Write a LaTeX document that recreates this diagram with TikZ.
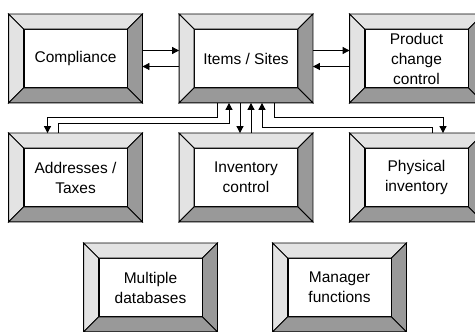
\documentclass[tikz,border=0pt]{standalone}
\usepackage{fontspec}
\setmainfont{Liberation Sans}
\usetikzlibrary{calc,arrows.meta}

\definecolor{bevlight}{HTML}{E3E3E3}
\definecolor{bevdark}{HTML}{999999}

\tikzset{
  bevelinner/.style={draw=black, fill=white, line width=0.8pt,
    minimum width=103pt, minimum height=58pt, inner sep=0pt,
    align=center, font=\fontsize{15.5}{20}\selectfont},
  lightface/.style={fill=bevlight, draw=black, line width=0.8pt, line join=miter},
  darkface/.style={fill=bevdark, draw=black, line width=0.8pt, line join=miter},
  link/.style={draw=black, line width=0.8pt, -{Triangle[length=7pt,width=7pt]}},
  plainlink/.style={draw=black, line width=0.8pt},
}

% Raised box: a white text panel framed by four bevelled faces
\newcommand\bevelbox[3]{%
  \node[bevelinner] (#1) at (#2) {#3};
  \coordinate (#1-onw) at ($(#1.north west)+(-15,15)$);
  \coordinate (#1-one) at ($(#1.north east)+(15,15)$);
  \coordinate (#1-ose) at ($(#1.south east)+(15,-15)$);
  \coordinate (#1-osw) at ($(#1.south west)+(-15,-15)$);
  \filldraw[lightface] (#1-onw) -- (#1-one) -- (#1.north east) -- (#1.north west) -- cycle;
  \filldraw[lightface] (#1-onw) -- (#1.north west) -- (#1.south west) -- (#1-osw) -- cycle;
  \filldraw[darkface] (#1-one) -- (#1-ose) -- (#1.south east) -- (#1.north east) -- cycle;
  \filldraw[darkface] (#1-osw) -- (#1.south west) -- (#1.south east) -- (#1-ose) -- cycle;
}

\begin{document}
\begin{tikzpicture}[x=1pt,y=1pt]
  \useasboundingbox (0,0) rectangle (475,332);
  \clip (0,0) rectangle (475,332);
  \fill[white] (0,0) rectangle (475,332);

  % top row
  \bevelbox{comp}{75.5,273.5}{Compliance}
  \bevelbox{items}{246,273.5}{Items / Sites}
  \bevelbox{prod}{416.5,273.5}{Product\\change\\control}

  % middle row
  \bevelbox{addr}{75.5,154.5}{Addresses /\\Taxes}
  \bevelbox{inv}{246,154.5}{Inventory\\control}
  \bevelbox{phys}{416.5,154.5}{Physical\\inventory}

  % bottom row
  \bevelbox{multi}{150.5,44.5}{Multiple\\databases}
  \bevelbox{mgr}{339.5,44.5}{Manager\\functions}

  % horizontal links between the top boxes
  \draw[link] ([xshift=15pt,yshift=8pt]comp.east) -- ([xshift=-15pt,yshift=8pt]items.west);
  \draw[link] ([xshift=-15pt,yshift=-8pt]items.west) -- ([xshift=15pt,yshift=-8pt]comp.east);
  \draw[link] ([xshift=15pt,yshift=8pt]items.east) -- ([xshift=-15pt,yshift=8pt]prod.west);
  \draw[link] ([xshift=-15pt,yshift=-8pt]prod.west) -- ([xshift=15pt,yshift=-8pt]items.east);

  % Items / Sites <-> Addresses / Taxes
  \draw[link] ([xshift=-29pt,yshift=-15pt]items.south) -- ++(0,-15)
    -| ([xshift=-28pt,yshift=15pt]addr.north);
  \draw[link] ([xshift=-17.5pt,yshift=15pt]addr.north) -- ++(0,10)
    -| ([xshift=-17pt,yshift=-15pt]items.south);

  % Items / Sites <-> Inventory control
  \draw[link] ([xshift=-6pt,yshift=-15pt]items.south) -- ([xshift=-6pt,yshift=15pt]inv.north);
  \draw[link] ([xshift=5pt,yshift=15pt]inv.north) -- ([xshift=5pt,yshift=-15pt]items.south);

  % Items / Sites <-> Physical inventory
  \draw[link] ([xshift=28pt,yshift=-15pt]items.south) -- ++(0,-15)
    -| ([xshift=26.5pt,yshift=15pt]phys.north);
  \draw[link] ([xshift=15.5pt,yshift=15pt]phys.north) -- ++(0,6)
    -| ([xshift=16pt,yshift=-15pt]items.south);
\end{tikzpicture}
\end{document}
